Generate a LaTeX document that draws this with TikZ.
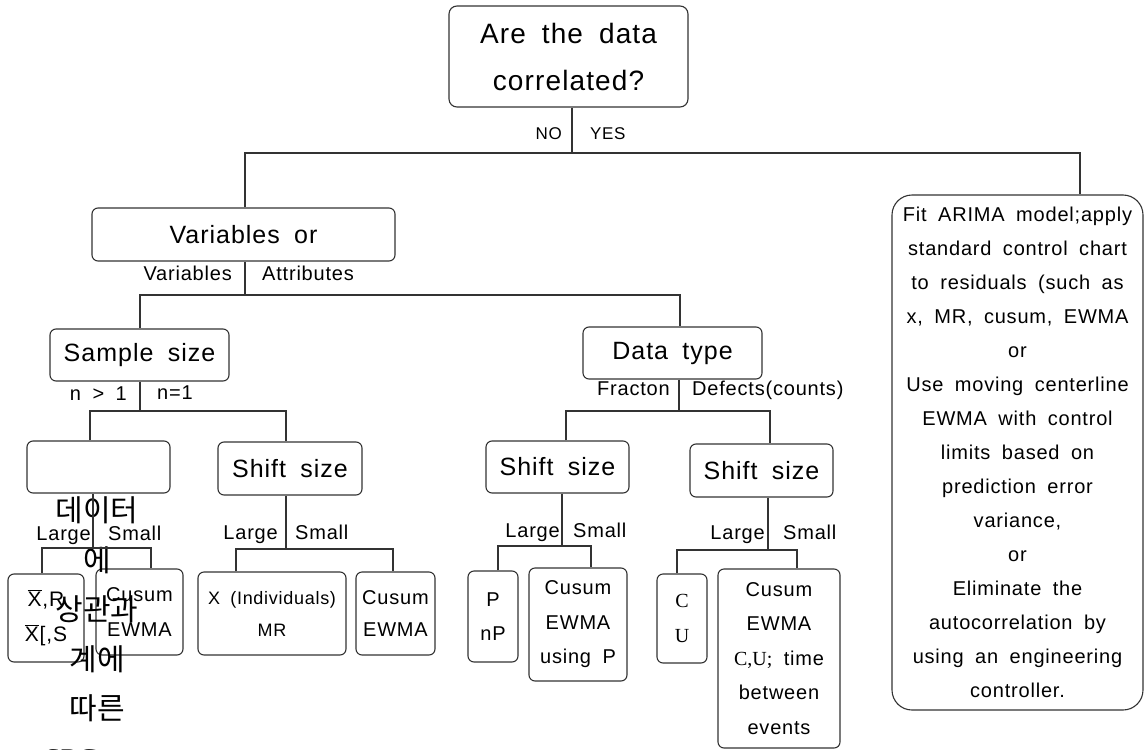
\documentclass[tikz,border=0pt]{standalone}
\usepackage{fontspec}
\setmainfont[LetterSpace=4,WordSpace=1.8]{Liberation Sans}
\newfontfamily\korfont{Noto Sans CJK KR}
\newfontfamily\serf{Liberation Serif}
\newcommand\fsz[2]{\fontsize{#1}{#2}\selectfont}
\newcommand\xbar{\setbox0\hbox{X}\rlap{\rule[\dimexpr\ht0+1.5pt\relax]{\wd0}{0.9pt}}X}
\begin{document}
\begin{tikzpicture}[x=1pt,y=-1pt,
  box/.style={draw=black!80, line width=1.1pt, rounded corners=6pt, inner sep=0pt, align=center, font=\fsz{20}{34.5}},
  head/.style={box, font=\fsz{25}{30}},
  lab/.style={inner sep=0pt, font=\fsz{20}{22}},
  ln/.style={draw=black!80, line width=1.1pt}]
\useasboundingbox (0,0) rectangle (1147,749);
\clip (0,0) rectangle (1147,749);
% boxes
\node[box, minimum width=239pt, minimum height=101pt, rounded corners=8pt, font=\fsz{28}{47}] (top) at (568.5,56.5) {Are the data\\correlated?};
\node[head, minimum width=303pt, minimum height=53pt] (varb) at (243.5,234.5) {Variables or};
\node[head, minimum width=179pt, minimum height=52pt] (ss) at (139.5,355) {Sample size};
\node[head, minimum width=179pt, minimum height=52pt] (dt) at (672.5,353) {Data type};
\node[box, minimum width=143pt, minimum height=52pt] (e) at (98.5,467) {};
\node[head, minimum width=144pt, minimum height=53pt] (sh1) at (290,468.5) {Shift size};
\node[head, minimum width=143pt, minimum height=52pt] (sh2) at (557.5,467) {Shift size};
\node[head, minimum width=143pt, minimum height=53pt] (sh3) at (761.5,470.5) {Shift size};
\node[box, minimum width=76pt, minimum height=88pt, font=\fsz{21}{35}] (xr) at (46,618) {\xbar,R\\\xbar[,S};
\node[box, minimum width=87pt, minimum height=86pt] (cu1) at (139.5,612) {Cusum\\EWMA};
\node[box, minimum width=148pt, minimum height=83pt, font=\fsz{18}{32}] (xi) at (272,613.5) {X (Individuals)\\MR};
\node[box, minimum width=79pt, minimum height=83pt, font=\fsz{20}{32}] (cu2) at (395.5,613.5) {Cusum\\EWMA};
\node[box, minimum width=50pt, minimum height=91pt] (pn) at (493,616.5) {P\\nP};
\node[box, minimum width=98pt, minimum height=113pt] (cu3) at (578,624.5) {Cusum\\EWMA\\using P};
\node[box, minimum width=50pt, minimum height=89pt] (cuv) at (682,618.5) {{\serf C}\\{\serf U}};
\node[box, minimum width=122pt, minimum height=179pt] (cu4) at (779,658.5) {Cusum\\EWMA\\{\serf C,U;} time\\between\\events};
\node[box, minimum width=251pt, minimum height=515pt, rounded corners=20pt, font=\fsz{20}{34}] (ar) at (1017.5,452.5) {Fit ARIMA model;apply\\standard control chart\\to residuals (such as\\x, MR, cusum, EWMA\\or\\Use moving centerline\\EWMA with control\\limits based on\\prediction error\\variance,\\or\\Eliminate the\\autocorrelation by\\using an engineering\\controller.};
% Korean text
\node[inner sep=0pt, align=center, font=\korfont\fsz{30}{49.5}] (kor) at (97,633) {데이터\\에\\상관과\\계에\\따른\\\hspace*{-52pt}{\serf SPC}};
% labels
\node[lab, anchor=mid east, font=\fsz{17}{20}] (no) at (562,137) {NO};
\node[lab, anchor=mid west, font=\fsz{17}{20}] (yes) at (590,137) {YES};
\node[lab, anchor=mid east] (lvar) at (232,278) {Variables};
\node[lab, anchor=mid west] (latt) at (262,278) {Attributes};
\node[lab, anchor=mid east] (ngt) at (127,398) {n > 1};
\node[lab, anchor=mid west] (neq) at (157,397) {n=1};
\node[lab, anchor=mid east] (lfr) at (670,393) {Fracton};
\node[lab, anchor=mid west] (ldf) at (692,393) {Defects(counts)};
\node[lab, anchor=mid east] (lg1) at (91,538) {Large};
\node[lab, anchor=mid west] (sm1) at (108,538) {Small};
\node[lab, anchor=mid east] (lg2) at (278,537) {Large};
\node[lab, anchor=mid west] (sm2) at (295,537) {Small};
\node[lab, anchor=mid east] (lg3) at (560,535) {Large};
\node[lab, anchor=mid west] (sm3) at (573,535) {Small};
\node[lab, anchor=mid east] (lg4) at (765,537) {Large};
\node[lab, anchor=mid west] (sm4) at (783,537) {Small};
% junction coordinates
\coordinate (j1) at (572,153); \coordinate (j1l) at (245,153); \coordinate (j1r) at (1080,153);
\coordinate (j2) at (245,295); \coordinate (j2l) at (140,295); \coordinate (j2r) at (680,295);
\coordinate (j3) at (140,411); \coordinate (j3l) at (90,411); \coordinate (j3r) at (286,411);
\coordinate (j4) at (679,411); \coordinate (j4l) at (566,411); \coordinate (j4r) at (770,411);
\coordinate (j5) at (93,548); \coordinate (j5l) at (42,548); \coordinate (j5r) at (151,548);
\coordinate (j6) at (286,549); \coordinate (j6l) at (236,549); \coordinate (j6r) at (393,549);
\coordinate (j7) at (562,546); \coordinate (j7l) at (498,546); \coordinate (j7r) at (591,546);
\coordinate (j8) at (768,550); \coordinate (j8l) at (677,550); \coordinate (j8r) at (797,550);
% connectors
\draw[ln] (top.south -| j1) -- (j1);
\draw[ln] (varb.north -| j1l) -- (j1l) -- (j1r) -- (ar.north -| j1r);
\draw[ln] (varb.south -| j2) -- (j2);
\draw[ln] (ss.north -| j2l) -- (j2l) -- (j2r) -- (dt.north -| j2r);
\draw[ln] (ss.south -| j3) -- (j3);
\draw[ln] (e.north -| j3l) -- (j3l) -- (j3r) -- (sh1.north -| j3r);
\draw[ln] (dt.south -| j4) -- (j4);
\draw[ln] (sh2.north -| j4l) -- (j4l) -- (j4r) -- (sh3.north -| j4r);
\draw[ln] (e.south -| j5) -- (j5);
\draw[ln] (xr.north -| j5l) -- (j5l) -- (j5r) -- (cu1.north -| j5r);
\draw[ln] (sh1.south -| j6) -- (j6);
\draw[ln] (xi.north -| j6l) -- (j6l) -- (j6r) -- (cu2.north -| j6r);
\draw[ln] (sh2.south -| j7) -- (j7);
\draw[ln] (pn.north -| j7l) -- (j7l) -- (j7r) -- (cu3.north -| j7r);
\draw[ln] (sh3.south -| j8) -- (j8);
\draw[ln] (cuv.north -| j8l) -- (j8l) -- (j8r) -- (cu4.north -| j8r);
\end{tikzpicture}
\end{document}
